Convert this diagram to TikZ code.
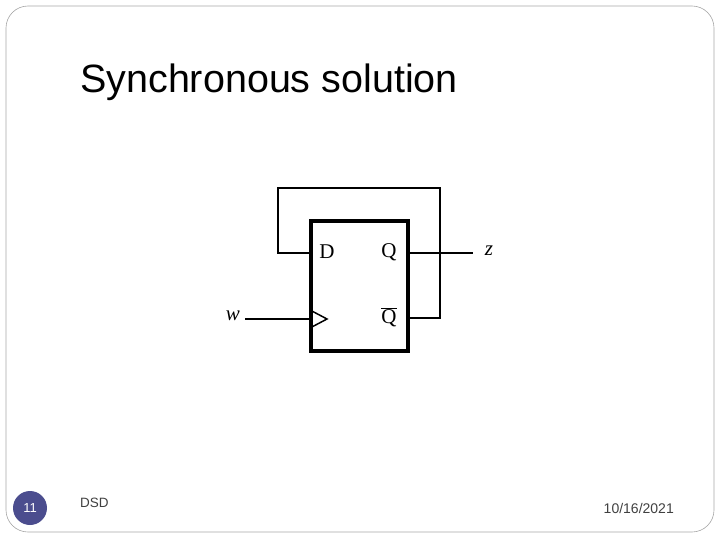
\documentclass[tikz,border=0pt]{standalone}
\usepackage{fontspec}
\setmainfont{Liberation Serif}
\newfontfamily\arialf{Liberation Sans}
\begin{document}
\begin{tikzpicture}[x=1pt,y=-1pt,
  wire/.style={line width=2.5pt},
  lbl/.style={inner sep=0pt,font=\fontsize{21}{21}\selectfont}]
\useasboundingbox (0,0) rectangle (720,540);
\draw[gray!70,line width=0.6pt,rounded corners=22pt] (6,6) rectangle (714,532);
\node[anchor=west,inner sep=0pt,font=\arialf\fontsize{39.5}{39.5}\selectfont] (title) at (80,82) {Synchronous solution};
\node[circle,fill={rgb,255:red,75;green,77;blue,142},minimum size=34pt,inner sep=0pt,text=white,font=\arialf\fontsize{13}{13}\selectfont] (num) at (30,508) {11};
\node[anchor=west,inner sep=0pt,font=\arialf\fontsize{13.5}{13.5}\selectfont,text=black!75] (dsd) at (80,503) {DSD};
\node[anchor=east,inner sep=0pt,font=\arialf\fontsize{14}{14}\selectfont,text=black!75] (date) at (674,508) {10/16/2021};
% flip-flop
\node[draw,line width=4pt,minimum width=97pt,minimum height=129pt,inner sep=0pt] (ff) at (359,286) {};
\node[lbl] (D) at (327,252) {D};
\node[lbl] (Q) at (389,252) {Q};
\node[lbl] (Qb) at (389,317) {$\overline{\mbox{Q}}$};
\coordinate (dIn) at (ff.west |- 0,253);
\coordinate (qOut) at (ff.east |- 0,253);
\coordinate (qbOut) at (ff.east |- 0,318);
\coordinate (clk) at (ff.west |- 0,319);
\node[lbl,font=\itshape\fontsize{21}{21}\selectfont] (z) at (489,251) {z};
\node[lbl,font=\itshape\fontsize{21}{21}\selectfont] (w) at (233,316) {w};
\coordinate (zEnd) at (473,253);
\coordinate (wStart) at (245,319);
\draw[wire] (qOut) -- (zEnd);
\draw[wire] (wStart) -- (clk);
\draw[wire] (qbOut) -- (440,318) -- (440,188) -- (278,188) -- (278,253) -- (dIn);
\draw[line width=1.5pt] (310,310) -- (327,319) -- (310,328);
\end{tikzpicture}
\end{document}
